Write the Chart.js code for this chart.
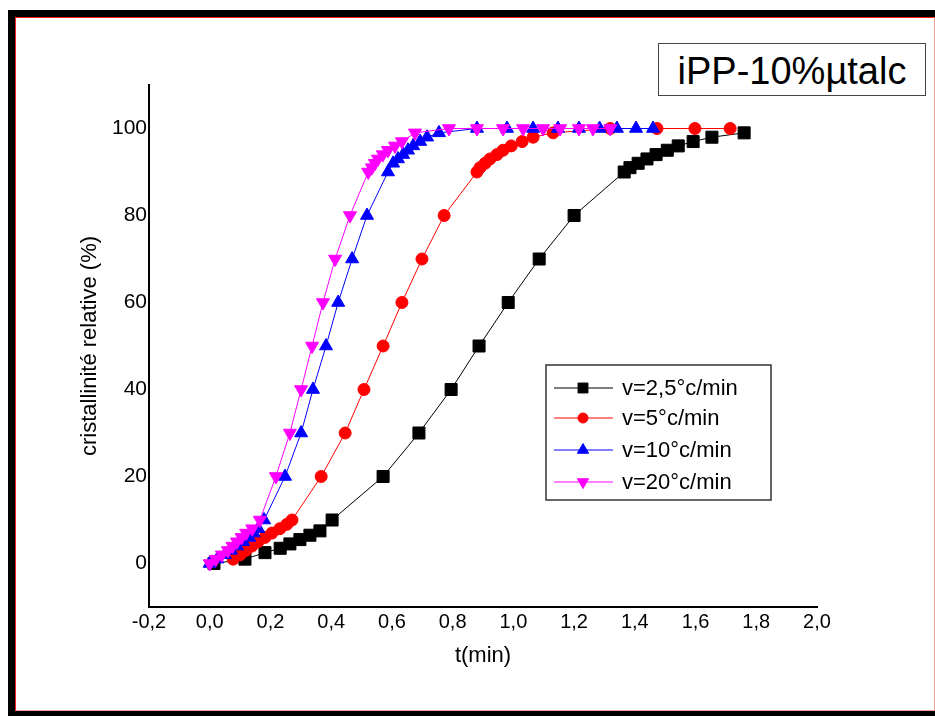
<!DOCTYPE html>
<html>
<head>
<meta charset="utf-8">
<script src="https://cdn.jsdelivr.net/npm/chart.js@4.4.1/dist/chart.umd.min.js"></script>
<style>
  html, body { margin: 0; padding: 0; background: #fff; width: 935px; height: 716px; overflow: hidden; }
  #frame { position: absolute; left: 8px; top: 10px; width: 940px; height: 720px; background: #000; }
  #inner { position: absolute; left: 15px; top: 17px; width: 918px; height: 692px; background: #fff;
           border: 1px solid #ff2020; border-right-color: #f29a9a; border-bottom-color: #f29a9a; }
  #chart { position: absolute; left: 0; top: 0; }
  #tag { position: absolute; left: 658px; top: 43px; width: 266px; height: 51px; border: 1.5px solid #444;
         background: #fff; color: #000; font: 38px "Liberation Sans", Arial, sans-serif;
         text-align: center; line-height: 54px; }
</style>
</head>
<body>
<div id="frame"></div>
<div id="inner"></div>
<canvas id="chart" width="935" height="716"></canvas>
<div id="tag">iPP-10%µtalc</div>
<script>
// Relative crystallinity vs time, four cooling rates
const seriesLabels = ['v=2,5°c/min', 'v=5°c/min', 'v=10°c/min', 'v=20°c/min'];

const t25 = [0.014, 0.116, 0.182, 0.232, 0.264, 0.297, 0.330, 0.363, 0.403,
             0.571, 0.689, 0.795, 0.887, 0.983, 1.085, 1.200,
             1.365, 1.384, 1.411, 1.440, 1.470, 1.507, 1.543, 1.592, 1.654, 1.760];
const x25 = [0, 1, 2.5, 3.5, 4.5, 5.5, 6.5, 7.5, 10,
             20, 30, 40, 50, 60, 70, 80,
             90, 91, 92, 93, 94, 95, 96, 97, 98, 99];

const t5 = [0.077, 0.100, 0.119, 0.139, 0.159, 0.182, 0.205, 0.231, 0.254, 0.271,
            0.367, 0.446, 0.508, 0.571, 0.633, 0.699, 0.772,
            0.880, 0.890, 0.907, 0.923, 0.946, 0.966, 0.993, 1.029, 1.065, 1.131,
            1.319, 1.473, 1.598, 1.714];
const x5 = [1, 2, 3, 4, 5, 6, 7, 8, 9, 10,
            20, 30, 40, 50, 60, 70, 80,
            90, 91, 92, 93, 94, 95, 96, 97, 98, 99,
            100, 100, 100, 100];

const t10 = [0, 0.025, 0.05, 0.07, 0.09, 0.11, 0.13, 0.145, 0.16, 0.179,
             0.248, 0.301, 0.340, 0.383, 0.423, 0.469, 0.518,
             0.587, 0.604, 0.620, 0.637, 0.653, 0.670, 0.693, 0.716, 0.755,
             0.880, 0.979, 1.065, 1.147, 1.216, 1.284, 1.341, 1.404, 1.460];
const x10 = [0, 1, 2, 3, 4, 5, 6, 7, 8, 10,
             20, 30, 40, 50, 60, 70, 80,
             90, 92, 93, 94, 95, 96, 97, 98, 99,
             100, 100, 100, 100, 100, 100, 100, 100, 100];

const t20 = [0, 0.02, 0.04, 0.06, 0.075, 0.09, 0.105, 0.12, 0.14, 0.165,
             0.218, 0.264, 0.301, 0.337, 0.373, 0.413, 0.462, 0.522,
             0.534, 0.544, 0.554, 0.570, 0.587, 0.610, 0.633, 0.676, 0.788,
             0.880, 0.966, 1.032, 1.098, 1.154, 1.216, 1.262, 1.319];
const x20 = [0, 1, 2, 3, 4, 5, 6, 7, 8, 10,
             20, 30, 40, 50, 60, 70, 80, 90,
             91, 92, 93, 94, 95, 96, 97, 99, 100,
             100, 100, 100, 100, 100, 100, 100, 100];

const xTicks = [-0.2, 0, 0.2, 0.4, 0.6, 0.8, 1.0, 1.2, 1.4, 1.6, 1.8, 2.0];
const yTicks = [0, 20, 40, 60, 80, 100];

const FONT = '"Liberation Sans", Arial, sans-serif';

function pts(ts, vs) { return ts.map((t, i) => ({ x: t, y: vs[i] })); }

const styles = [
  { color: '#000000', pointStyle: 'rect',     radius: 8.5, rotation: 0,   legendRadius: 7 },
  { color: '#ff0000', pointStyle: 'circle',   radius: 6,   rotation: 0,   legendRadius: 5 },
  { color: '#0000ff', pointStyle: 'triangle', radius: 7.5, rotation: 0,   legendRadius: 6.5 },
  { color: '#ff00ff', pointStyle: 'triangle', radius: 7.5, rotation: 180, legendRadius: 6.5 }
];
const seriesData = [pts(t25, x25), pts(t5, x5), pts(t10, x10), pts(t20, x20)];

const datasets = seriesData.map((d, i) => ({
  label: seriesLabels[i],
  data: d,
  borderColor: styles[i].color,
  backgroundColor: styles[i].color,
  borderWidth: 1,
  pointStyle: styles[i].pointStyle,
  pointRadius: styles[i].radius,
  pointRotation: styles[i].rotation,
  pointBorderWidth: 1,
  pointBackgroundColor: styles[i].color,
  pointBorderColor: styles[i].color,
  tension: 0,
  fill: false,
  order: 3 - i
}));

// Boxed legend with line + marker samples
const boxLegend = {
  id: 'boxLegend',
  afterDraw(chart) {
    const ctx = chart.ctx;
    const box = { x: 546, y: 365, w: 225, h: 135 };
    ctx.save();
    ctx.strokeStyle = '#333';
    ctx.lineWidth = 1.5;
    ctx.strokeRect(box.x, box.y, box.w, box.h);
    const rows = [388, 418, 450, 482];
    chart.data.datasets.forEach((ds, i) => {
      const y = rows[i];
      const st = styles[i];
      ctx.strokeStyle = st.color;
      ctx.lineWidth = 1;
      ctx.beginPath();
      ctx.moveTo(554, y);
      ctx.lineTo(613, y);
      ctx.stroke();
      ctx.fillStyle = st.color;
      Chart.helpers.drawPoint(ctx, {
        pointStyle: st.pointStyle, rotation: st.rotation,
        radius: st.legendRadius, borderWidth: 1
      }, 583, y);
      ctx.fillStyle = '#000';
      ctx.font = '22px ' + FONT;
      ctx.textAlign = 'left';
      ctx.textBaseline = 'middle';
      ctx.fillText(ds.label, 622, y + 1);
    });
    ctx.restore();
  }
};

new Chart(document.getElementById('chart'), {
  type: 'line',
  data: { datasets },
  options: {
    responsive: false,
    animation: false,
    layout: { padding: { left: 0, right: 118, top: 85, bottom: 0 } },
    plugins: { legend: { display: false }, tooltip: { enabled: false } },
    scales: {
      x: {
        type: 'linear',
        min: -0.2,
        max: 2.0,
        afterBuildTicks: s => { s.ticks = xTicks.map(v => ({ value: v })); },
        afterFit: s => { s.height = 109; },
        grid: { display: false, drawTicks: false },
        border: { display: true, color: '#000', width: 2 },
        ticks: {
          color: '#000',
          padding: 3,
          maxRotation: 0,
          font: { family: FONT, size: 20 },
          callback: v => v.toFixed(1).replace('.', ',')
        },
        title: {
          display: true,
          text: 't(min)',
          color: '#000',
          font: { family: FONT, size: 22 },
          padding: { top: 0, bottom: 47 }
        }
      },
      y: {
        type: 'linear',
        min: -10,
        max: 110,
        afterBuildTicks: s => { s.ticks = yTicks.map(v => ({ value: v })); },
        afterFit: s => { s.width = 149; },
        grid: { display: false, drawTicks: false },
        border: { display: true, color: '#000', width: 2 },
        ticks: {
          color: '#000',
          padding: 2,
          font: { family: FONT, size: 21 },
          callback: v => String(v)
        },
        title: {
          display: true,
          text: 'cristallinité relative (%)',
          color: '#000',
          font: { family: FONT, size: 22 },
          padding: { top: 77, bottom: 0 }
        }
      }
    }
  },
  plugins: [boxLegend]
});
</script>
</body>
</html>
